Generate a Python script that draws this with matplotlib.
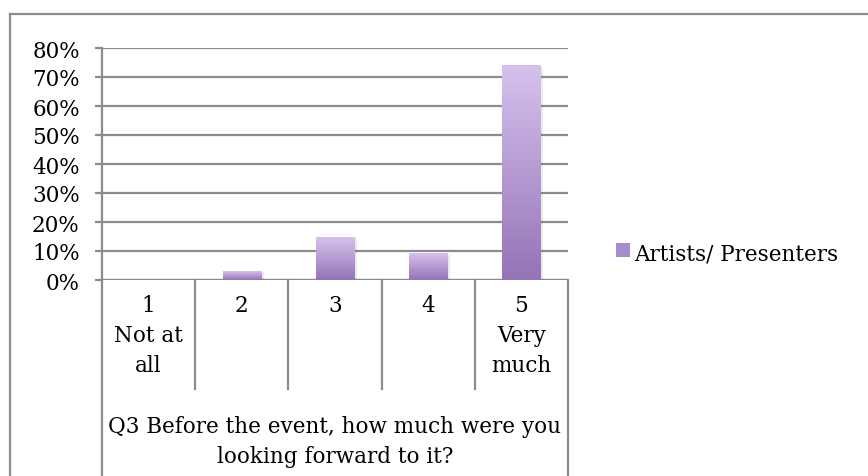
import numpy as np
import matplotlib
matplotlib.use("Agg")
import matplotlib.pyplot as plt
from matplotlib.lines import Line2D
from matplotlib.transforms import blended_transform_factory
from matplotlib.colors import LinearSegmentedColormap

# Survey data
categories = ["1\nNot at\nall", "2", "3", "4", "5\nVery\nmuch"]
values = [0.0, 0.03, 0.148, 0.09, 0.738]
series_name = "Artists/ Presenters"
question = "Q3 Before the event, how much were you\nlooking forward to it?"
y_ticks = [0.0, 0.1, 0.2, 0.3, 0.4, 0.5, 0.6, 0.7, 0.8]
y_tick_labels = ["0%", "10%", "20%", "30%", "40%", "50%", "60%", "70%", "80%"]

W, H = 868, 477
DPI = 100
FONT = "DejaVu Serif"
FS = 15.5
GRID = "#8c8c8c"

plt.rcParams["font.family"] = [FONT]

fig = plt.figure(figsize=(W / DPI, H / DPI), dpi=DPI)
fig.patch.set_facecolor("white")

def fx(px):
    return px / W

def fy(py):
    return 1 - py / H

# plot area in pixel terms
L, R, T, B = 102, 568, 49, 281
ax = fig.add_axes([fx(L), fy(B), fx(R) - fx(L), fy(T) - fy(B)])

for s in ["top", "right", "bottom"]:
    ax.spines[s].set_visible(False)
ax.spines["left"].set_color(GRID)
ax.spines["left"].set_linewidth(1.6)

ax.set_yticks(y_ticks)
ax.set_yticklabels(y_tick_labels, fontsize=FS)
ax.tick_params(axis="y", length=5, width=1.6, color=GRID, pad=11)
ax.set_xticks([])
ax.yaxis.grid(True, color=GRID, linewidth=1.6)
ax.set_axisbelow(True)
ax.axhline(0, color=GRID, linewidth=1.6, zorder=1)

# gradient fill for bars
cmap = LinearSegmentedColormap.from_list("lav", ["#9473b6", "#d6c2ee"])
grad = np.linspace(0, 1, 256).reshape(-1, 1)
bar_w = 0.41
xs = np.arange(1, len(categories) + 1)
bars = ax.bar(xs, values, width=bar_w, color="none", edgecolor="none", zorder=3)
for b, v in zip(bars, values):
    if v <= 0:
        continue
    x0 = b.get_x()
    # soft shadow
    ax.bar(x0 + bar_w / 2 + 0.02, v, width=bar_w + 0.02, bottom=-0.004,
           color="#000000", alpha=0.08, zorder=2, linewidth=0)
    ax.imshow(grad, cmap=cmap, origin="lower", aspect="auto",
              extent=[x0, x0 + bar_w, 0, v], zorder=3)
ax.set_xlim(0.5, len(categories) + 0.5)
ax.set_ylim(0, 0.8)

# category divider lines and labels below axis
bt = blended_transform_factory(ax.transData, fig.transFigure)
for xb in np.arange(1.5, len(categories), 1.0):
    fig.add_artist(Line2D([xb, xb], [fy(B), fy(390)], transform=bt,
                          color=GRID, linewidth=1.6))
for xb in [0.5, len(categories) + 0.5]:
    fig.add_artist(Line2D([xb, xb], [fy(B), 0], transform=bt,
                          color=GRID, linewidth=1.6))

LINE = 30
for x, lab in zip(xs, categories):
    for i, part in enumerate(lab.split("\n")):
        fig.text(x, fy(304 + LINE * i), part, transform=bt, ha="center",
                 va="center_baseline", fontsize=FS)

qx = (0.5 + len(categories) + 0.5) / 2
for i, part in enumerate(question.split("\n")):
    fig.text(qx, fy(425 + LINE * i), part, transform=bt, ha="center",
             va="center_baseline", fontsize=FS)

# legend
fig.add_artist(plt.Rectangle((fx(616), fy(258)), fx(14), fy(244) - fy(258),
                             transform=fig.transFigure, facecolor="#a88bcc",
                             edgecolor="none"))
fig.text(fx(634), fy(252), series_name, ha="left", va="center_baseline",
         fontsize=FS)

# outer chart frame
fig.add_artist(Line2D([fx(10), fx(10)], [0, fy(15)], color=GRID, linewidth=1.6))
fig.add_artist(Line2D([fx(10), 1], [fy(15), fy(15)], color=GRID, linewidth=1.6))

fig.savefig("out.png", dpi=DPI)
